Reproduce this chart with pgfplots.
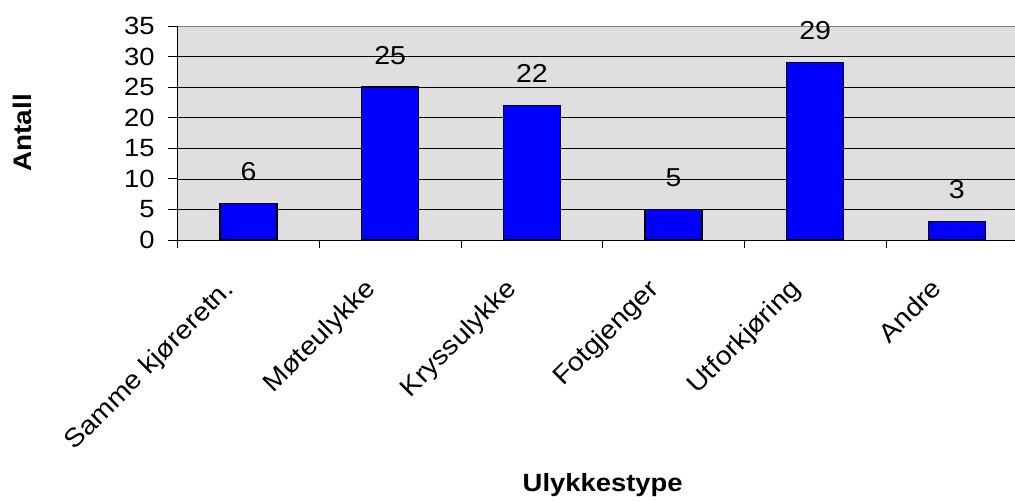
\documentclass[border=0pt]{standalone}
\usepackage{fontspec}
\setmainfont{Liberation Sans}[FakeStretch=1.1]
\usepackage{pgfplots}
\pgfplotsset{compat=1.18}
\definecolor{bg}{HTML}{DFDFDF}
\begin{document}
\begin{tikzpicture}
\begin{axis}[
  at={(0,0)}, anchor=south west,
  scale only axis, width=850bp, height=214bp,
  ybar, bar width=57bp,
  xmin=-0.5, xmax=5.5, ymin=0, ymax=35,
  xtick={0,...,5},
  xticklabels={Samme kjøreretn., Møteulykke, Kryssulykke, Fotgjenger, Utforkjøring, Andre},
  minor xtick={-0.5,0.5,...,5.5},
  ytick={0,5,...,35},
  ymajorgrids, grid style={black, line width=0.7bp},
  axis x line*=bottom, axis y line*=left,
  axis line style={black, line width=1bp, -},
  tick align=outside,
  major tick length=10bp, minor tick length=8bp,
  major x tick style={draw=none},
  minor x tick style={black, line width=0.8bp},
  major y tick style={black, line width=0.8bp},
  axis background/.style={fill=bg},
  /pgf/number format/assume math mode=true,
  nodes near coords,
  every node near coord/.append style={font=\fontsize{26}{26}\selectfont, inner sep=0pt, yshift=22bp, anchor=south, black},
  tick label style={font=\fontsize{25}{25}\selectfont},
  yticklabel style={anchor=east, inner sep=0pt, xshift=-13bp},
  xticklabel style={font=\fontsize{26}{26}\selectfont, inner sep=0pt, xshift=-27bp, yshift=-27bp, rotate=45, anchor=north east},
  xlabel={Ulykkestype},
  xlabel style={font=\bfseries\fontsize{25}{25}\selectfont, at={(axis description cs:0.5,-1.173)}, anchor=base, inner sep=0pt},
  ylabel={Antall},
  ylabel style={font=\bfseries\fontsize{25.5}{25.5}\selectfont, at={(axis description cs:-0.194,0.5)}, anchor=north, inner sep=0pt},
]
\addplot[fill=blue, draw=black, line width=1.6bp] coordinates {(0,6) (1,25) (2,22) (3,5) (4,29) (5,3)};
\draw[gray, line width=1.5bp] (rel axis cs:0,1) -- (rel axis cs:1,1);
\end{axis}
\pgfresetboundingbox
\path[use as bounding box] (-177.7bp,-262bp) rectangle (837.3bp,240bp);
\end{tikzpicture}
\end{document}
